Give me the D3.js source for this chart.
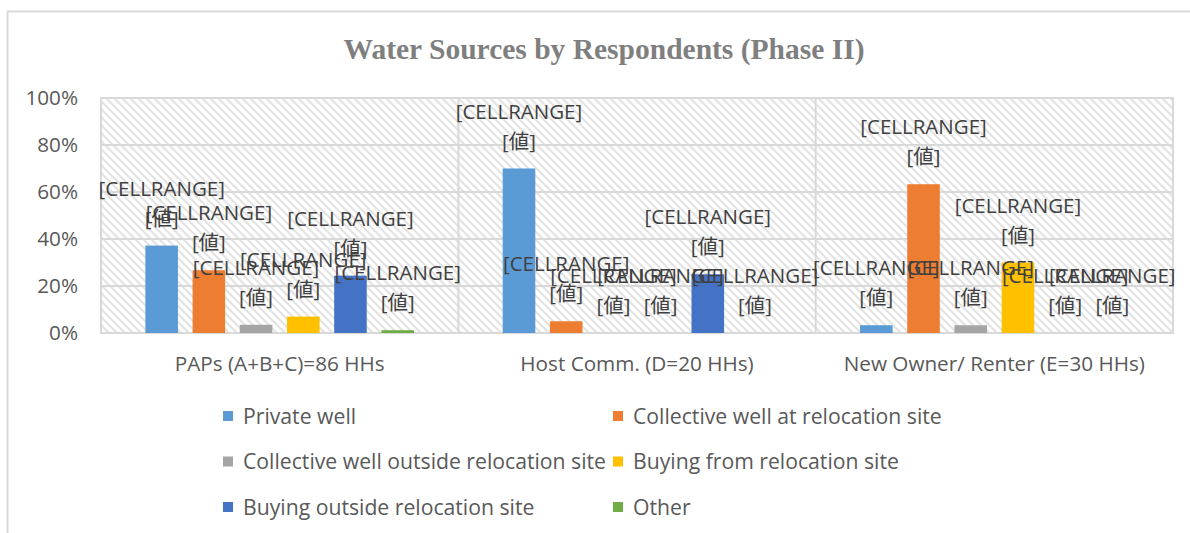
<!DOCTYPE html>
<html>
<head>
<meta charset="utf-8">
<script src="https://cdn.jsdelivr.net/npm/d3@7"></script>
<style>
    body { margin: 0; background: #fff; }
    svg { display: block; }
    .tick-label { font-family: "Open Sans", "Noto Sans CJK JP", sans-serif; font-size: 20.7px; fill: #595959; }
    .data-label { font-family: "Open Sans", "Noto Sans CJK JP", sans-serif; font-size: 20.5px; fill: #404040; text-anchor: middle; }
    .legend-label { font-family: "Open Sans", "Noto Sans CJK JP", sans-serif; font-size: 21.2px; fill: #595959; }
</style>
</head>
<body>
<svg id="chart" width="1190" height="533"></svg>
<script>
    // categories and series (share of households, %)
    const categories = [
        "PAPs (A+B+C)=86 HHs",
        "Host Comm. (D=20 HHs)",
        "New Owner/ Renter (E=30 HHs)",
    ];
    const seriesNames = [
        "Private well",
        "Collective well at relocation site",
        "Collective well outside relocation site",
        "Buying from relocation site",
        "Buying outside relocation site",
        "Other",
    ];
    const privateWell = [37.2, 70, 3.3];
    const collectiveAt = [26.7, 5, 63.3];
    const collectiveOutside = [3.5, 0, 3.3];
    const buyingFrom = [7.0, 0, 30];
    const buyingOutside = [24.4, 25, 0];
    const other = [1.2, 0, 0];
    const yTicks = [0, 20, 40, 60, 80, 100];

    const seriesValues = [privateWell, collectiveAt, collectiveOutside, buyingFrom, buyingOutside, other];
    const colors = ["#5B9BD5", "#ED7D31", "#A5A5A5", "#FFC000", "#4472C4", "#70AD47"];

    const svg = d3.select("#chart");
    const plot = { left: 101, right: 1173, top: 98, bottom: 333 };

    // outer chart border (cut off at right / bottom like the reference)
    svg.append("rect")
        .attr("x", 7.5).attr("y", 11.5)
        .attr("width", 1300).attr("height", 600)
        .attr("fill", "none")
        .attr("stroke", "#d9d9d9")
        .attr("stroke-width", 2);

    svg.append("text")
        .attr("x", 604)
        .attr("y", 59)
        .attr("text-anchor", "middle")
        .style("font-family", "'Liberation Serif', 'Times New Roman', serif")
        .style("font-weight", "bold")
        .style("font-size", "29.5px")
        .style("fill", "#7f7f7f")
        .text("Water Sources by Respondents (Phase II)");

    // hatch pattern for plot area
    const defs = svg.append("defs");
    const pat = defs.append("pattern")
        .attr("id", "hatch")
        .attr("patternUnits", "userSpaceOnUse")
        .attr("width", 8).attr("height", 8);
    pat.append("rect").attr("width", 8).attr("height", 8).attr("fill", "#fff");
    pat.append("path")
        .attr("d", "M-2,-2 L10,10 M-2,6 L2,10 M6,-2 L10,2")
        .attr("stroke", "#e3e3e3")
        .attr("stroke-width", 2.2);

    svg.append("rect")
        .attr("x", plot.left).attr("y", plot.top)
        .attr("width", plot.right - plot.left)
        .attr("height", plot.bottom - plot.top)
        .attr("fill", "url(#hatch)")
        .attr("stroke", "#d9d9d9")
        .attr("stroke-width", 2);

    const x0 = d3.scaleBand()
        .domain(categories)
        .range([plot.left, plot.right])
        .padding(0);

    const x1 = d3.scaleBand()
        .domain(d3.range(seriesNames.length))
        .range([0, x0.bandwidth()])
        .paddingInner(0.31)
        .paddingOuter(0.94);

    const y = d3.scaleLinear().domain([0, 100]).range([plot.bottom, plot.top]);

    // gridlines
    svg.append("g")
        .selectAll("line")
        .data(yTicks)
        .join("line")
        .attr("x1", plot.left).attr("x2", plot.right)
        .attr("y1", (d) => y(d)).attr("y2", (d) => y(d))
        .attr("stroke", "#d9d9d9")
        .attr("stroke-width", 2);

    // vertical dividers between categories
    svg.append("g")
        .selectAll("line")
        .data(categories.slice(1))
        .join("line")
        .attr("x1", (d) => x0(d)).attr("x2", (d) => x0(d))
        .attr("y1", plot.top).attr("y2", plot.bottom)
        .attr("stroke", "#d9d9d9")
        .attr("stroke-width", 2);

    // y axis labels
    svg.append("g")
        .selectAll("text")
        .data(yTicks)
        .join("text")
        .attr("class", "tick-label")
        .attr("x", 78)
        .attr("y", (d) => y(d) + 7)
        .attr("text-anchor", "end")
        .text((d) => d + "%");

    // category labels
    svg.append("g")
        .selectAll("text")
        .data(categories)
        .join("text")
        .attr("class", "tick-label")
        .attr("x", (d) => x0(d) + x0.bandwidth() / 2)
        .attr("y", 371)
        .attr("text-anchor", "middle")
        .text((d) => d);

    // flatten into bar records
    const bars = [];
    categories.forEach((c, ci) => {
        seriesValues.forEach((vals, si) => {
            bars.push({ cat: c, s: si, v: vals[ci] });
        });
    });

    svg.append("g")
        .selectAll("rect")
        .data(bars)
        .join("rect")
        .attr("x", (d) => x0(d.cat) + x1(d.s))
        .attr("width", x1.bandwidth())
        .attr("y", (d) => y(d.v))
        .attr("height", (d) => y(0) - y(d.v))
        .attr("fill", (d) => colors[d.s]);

    // data labels (unresolved Excel placeholders)
    const lbl = svg.append("g");
    bars.forEach((d) => {
        const cx = x0(d.cat) + x1(d.s) + x1.bandwidth() / 2;
        const top = y(d.v);
        lbl.append("text").attr("class", "data-label")
            .attr("x", cx).attr("y", top - 57 + 7).text("[CELLRANGE]");
        lbl.append("text").attr("class", "data-label")
            .attr("x", cx).attr("y", top - 27 + 7).text("[値]");
    });

    // legend, two columns
    const legend = svg.append("g")
        .selectAll("g")
        .data(seriesNames)
        .join("g")
        .attr("transform", (d, i) =>
            `translate(${i % 2 === 0 ? 223 : 613},${416 + Math.floor(i / 2) * 45.5})`);
    legend.append("rect")
        .attr("x", 0).attr("y", -5)
        .attr("width", 10).attr("height", 10)
        .attr("fill", (d, i) => colors[i]);
    legend.append("text")
        .attr("class", "legend-label")
        .attr("x", 20).attr("y", 7.5)
        .text((d) => d);
</script>
</body>
</html>
